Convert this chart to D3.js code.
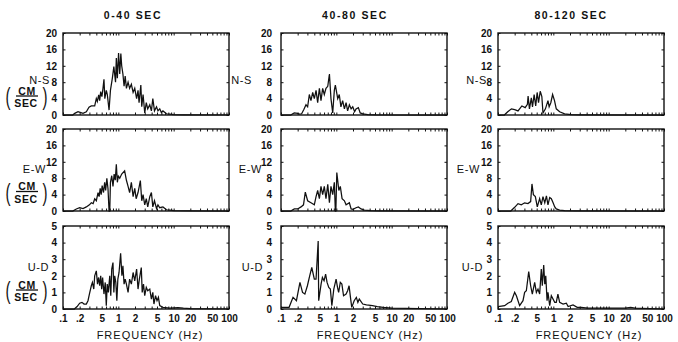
<!DOCTYPE html>
<html><head><meta charset="utf-8">
<script src="https://cdn.jsdelivr.net/npm/d3@7"></script>
<style>
body{margin:0;background:#fff}
svg{display:block}
text{font-family:"Liberation Sans",Arial,sans-serif;fill:#111}
</style>
</head><body>
<svg id="c" width="678" height="342"></svg>
<script>
// ---- data ----
const windows = ["0-40 SEC", "40-80 SEC", "80-120 SEC"];
const components = ["N-S", "E-W", "U-D"];
const unitTop = "CM";
const unitBottom = "SEC";
const xTitle = "FREQUENCY (Hz)";
const yMaxes = [20, 20, 5];
const yTicksHoriz = [0, 4, 8, 12, 16, 20];
const yTicksVert = [0, 1, 2, 3, 4, 5];
const xTickValues = [0.1, 0.2, 0.5, 1, 2, 5, 10, 20, 50, 100];
const xTickLabels = [".1", ".2", "5", "1", "2", "5", "10", "20", "50", "100"];

// spectra: [frequency Hz, amplitude cm/sec]
const ns_0_40 = [[0.1,0],[0.15,0],[0.163,0.4],[0.187,0.8],[0.21,0.6],[0.23,0.4],[0.264,0.8],[0.295,1.9],[0.325,2.2],[0.374,2.2],[0.40,4.0],[0.417,3.3],[0.442,4.9],[0.46,3.5],[0.48,5.7],[0.505,4.5],[0.528,6.5],[0.55,8.7],[0.57,4.0],[0.606,6.0],[0.632,5.0],[0.68,1.2],[0.72,6.0],[0.78,9.0],[0.83,11.8],[0.89,8.0],[0.92,13.9],[0.96,9.0],[1.01,15.1],[1.06,10.0],[1.11,15.0],[1.15,12.0],[1.21,10.0],[1.27,7.0],[1.33,9.5],[1.40,6.5],[1.50,8.0],[1.60,6.5],[1.72,7.5],[1.85,5.5],[1.98,6.5],[2.14,4.0],[2.27,6.0],[2.37,3.0],[2.55,7.3],[2.65,2.0],[2.8,5.0],[3.0,0.5],[3.2,3.0],[3.4,1.5],[3.7,2.5],[3.96,1.0],[4.2,4.0],[4.5,1.0],[4.9,2.0],[5.2,1.0],[5.6,1.5],[6.0,0.6],[6.4,1.0],[7.4,0.3],[8.5,0.2],[9.8,0.1],[15,0.05],[100,0]];
const ns_40_80 = [[0.1,0],[0.15,0],[0.163,0.3],[0.174,0.5],[0.2,0.4],[0.215,0.2],[0.236,0.3],[0.26,1.4],[0.283,2.5],[0.303,2.0],[0.325,5.0],[0.348,3.5],[0.374,5.5],[0.40,4.0],[0.43,6.0],[0.46,3.0],[0.494,6.5],[0.528,3.5],[0.566,6.5],[0.606,5.0],[0.65,6.5],[0.70,7.0],[0.75,10.0],[0.80,4.0],[0.86,0.5],[0.92,6.0],[0.96,7.3],[1.06,4.0],[1.13,5.0],[1.21,2.0],[1.30,3.5],[1.40,1.5],[1.50,3.0],[1.60,1.0],[1.72,2.5],[1.85,1.5],[1.98,2.0],[2.14,0.8],[2.27,1.5],[2.5,1.8],[2.7,0.5],[3.0,0.3],[3.7,0.1],[5,0.05],[100,0]];
const ns_80_120 = [[0.1,0],[0.13,0],[0.15,0.8],[0.175,1.5],[0.2,1.3],[0.23,1.0],[0.27,2.2],[0.31,1.8],[0.34,2.6],[0.35,4.6],[0.37,1.5],[0.40,4.2],[0.42,2.0],[0.45,5.0],[0.48,2.2],[0.51,5.5],[0.54,3.0],[0.58,5.8],[0.62,4.5],[0.65,0.5],[0.72,1.5],[0.80,3.5],[0.84,2.0],[0.90,3.0],[0.97,5.0],[1.05,3.5],[1.13,1.5],[1.30,0.8],[1.60,0.3],[2.1,0.1],[3,0.05],[100,0]];
const ew_0_40 = [[0.1,0],[0.15,0],[0.174,0.5],[0.2,0.8],[0.23,0.6],[0.264,1.0],[0.3,1.5],[0.325,2.0],[0.35,1.8],[0.374,3.0],[0.40,2.5],[0.43,4.5],[0.45,3.5],[0.47,5.5],[0.49,4.0],[0.51,6.2],[0.54,4.5],[0.566,7.0],[0.59,5.0],[0.62,8.0],[0.65,5.5],[0.68,0],[0.70,0],[0.72,7.0],[0.76,8.6],[0.80,6.0],[0.84,9.0],[0.88,7.5],[0.92,11.4],[0.96,7.0],[1.0,8.5],[1.06,8.0],[1.15,9.0],[1.30,9.8],[1.40,7.5],[1.50,6.0],[1.60,4.5],[1.72,7.0],[1.85,3.5],[1.98,5.5],[2.1,3.0],[2.27,4.5],[2.5,7.4],[2.65,2.5],[2.8,4.0],[3.0,1.5],[3.2,3.0],[3.4,1.0],[3.7,3.5],[3.96,4.5],[4.2,1.0],[4.5,2.5],[4.9,0.6],[5.2,1.5],[5.6,0.8],[6.4,1.0],[7.4,0.3],[8.5,0.2],[10,0.1],[20,0.05],[100,0]];
const ew_40_80 = [[0.1,0],[0.15,0],[0.174,0.5],[0.2,0.5],[0.23,1.0],[0.255,1.5],[0.275,4.6],[0.303,2.5],[0.348,2.0],[0.40,1.5],[0.43,3.5],[0.46,5.0],[0.494,3.0],[0.528,6.0],[0.566,4.0],[0.606,6.0],[0.65,3.0],[0.70,6.5],[0.75,2.0],[0.80,6.0],[0.86,4.0],[0.92,7.0],[0.96,0],[0.98,0],[1.02,9.4],[1.11,5.0],[1.18,6.0],[1.27,3.0],[1.40,2.5],[1.50,1.5],[1.72,2.0],[1.85,0.5],[2.0,0.4],[2.27,0.8],[2.5,1.0],[2.8,0.5],[3.2,0.2],[4.2,0.1],[6,0.05],[100,0]];
const ew_80_120 = [[0.1,0],[0.17,0],[0.2,0.9],[0.23,1.8],[0.264,1.5],[0.303,2.0],[0.348,1.8],[0.389,2.3],[0.411,6.6],[0.436,4.0],[0.473,3.5],[0.513,1.0],[0.566,3.0],[0.606,1.5],[0.65,3.5],[0.70,2.0],[0.75,3.7],[0.80,1.5],[0.86,3.3],[0.92,3.0],[0.99,2.0],[1.06,1.0],[1.13,0.5],[1.30,0.2],[1.60,0.1],[2.5,0.05],[100,0]];
const ud_0_40 = [[0.1,0],[0.16,0],[0.18,0.15],[0.2,0.35],[0.22,0.4],[0.24,0.3],[0.264,0.3],[0.283,0.5],[0.30,0.9],[0.325,1.4],[0.34,1.6],[0.36,1.2],[0.374,2.0],[0.40,2.3],[0.42,1.5],[0.44,1.9],[0.46,1.4],[0.48,2.0],[0.50,1.2],[0.52,1.9],[0.55,0.9],[0.58,1.6],[0.606,0.2],[0.63,1.5],[0.66,1.0],[0.70,2.0],[0.73,0.8],[0.76,2.4],[0.80,2.8],[0.83,1.0],[0.86,2.0],[0.9,1.6],[0.94,0.5],[0.98,1.8],[1.03,2.2],[1.10,3.35],[1.16,2.0],[1.21,2.6],[1.27,1.5],[1.33,1.8],[1.40,1.5],[1.50,1.0],[1.60,1.8],[1.72,1.5],[1.85,2.2],[1.98,1.7],[2.14,2.4],[2.27,1.2],[2.4,1.8],[2.6,2.5],[2.7,1.0],[2.85,1.5],[3.0,0.8],[3.2,1.3],[3.4,1.1],[3.7,1.2],[3.96,0.6],[4.2,1.0],[4.4,0.3],[4.7,0.8],[5.0,0.5],[5.3,0.7],[5.6,0.2],[6.4,0.1],[8.5,0.05],[12,0.08],[15,0.05],[20,0.03],[100,0]];
const ud_40_80 = [[0.1,0.1],[0.14,0.1],[0.165,0.7],[0.19,0.5],[0.22,1.6],[0.245,1.0],[0.27,0.9],[0.30,1.4],[0.33,2.0],[0.36,2.5],[0.40,1.8],[0.43,1.8],[0.47,4.1],[0.48,0.5],[0.53,1.5],[0.56,1.9],[0.60,1.7],[0.64,2.1],[0.68,1.6],[0.73,1.3],[0.78,1.2],[0.83,0.2],[0.90,1.2],[0.99,1.8],[1.05,1.3],[1.1,1.0],[1.18,1.6],[1.26,1.5],[1.35,0.8],[1.5,0.9],[1.6,1.1],[1.7,1.4],[1.8,0.7],[1.9,0.1],[2.1,0.5],[2.3,0.7],[2.45,0.4],[2.6,0.6],[3.0,0.3],[3.5,0.25],[4.5,0.2],[5.5,0.15],[7,0.1],[10,0.05],[100,0]];
const ud_80_120 = [[0.1,0.15],[0.132,0.2],[0.151,0.35],[0.174,0.45],[0.2,1.0],[0.215,0.8],[0.246,0.2],[0.283,0.5],[0.303,1.0],[0.325,1.1],[0.359,2.25],[0.389,1.4],[0.417,0.9],[0.46,1.6],[0.494,1.0],[0.528,1.2],[0.566,0.9],[0.606,2.4],[0.632,1.4],[0.67,2.65],[0.70,1.5],[0.73,2.0],[0.77,0.5],[0.80,1.0],[0.86,0.2],[0.92,0.8],[1.06,0.4],[1.13,0.4],[1.21,0.9],[1.30,0.4],[1.50,0.3],[1.72,0.35],[1.85,0.15],[2.27,0.25],[2.7,0.1],[3.2,0.1],[4.2,0.05],[20,0.05],[25,0.1],[30,0.05],[100,0]];

const spectra = [
  [ns_0_40, ns_40_80, ns_80_120],
  [ew_0_40, ew_40_80, ew_80_120],
  [ud_0_40, ud_40_80, ud_80_120]
];

// ---- layout ----
const colLeft = [63, 281, 498];
const colW = 166;
const rowTop = [33, 129, 226];
const rowBot = [115, 211, 309];
const tickPad = [6, 9, 6];
const titleX = [133, 355, 571];
const freqX = [150, 370, 589];
const compRight = [[50, 46, 49], [252, 262, 263], [487, 480, 483]];
const compY = [80, 168.5, 267];
const fracY = [96, 191.5, 290];

const svg = d3.select("#c");
const ink = "#111";

windows.forEach((w, c) => {
  svg.append("text").attr("x", titleX[c]).attr("y", 19)
    .attr("text-anchor", "middle").attr("font-size", 10.5).attr("font-weight", "bold")
    .attr("letter-spacing", 1.6).text(w);
  svg.append("text").attr("x", freqX[c]).attr("y", 339)
    .attr("text-anchor", "middle").attr("font-size", 11)
    .attr("letter-spacing", 1).text(xTitle);
});

for (let r = 0; r < 3; r++) {
  for (let c = 0; c < 3; c++) {
    const h = rowBot[r] - rowTop[r];
    const x = d3.scaleLog().domain([0.1, 100]).range([0, colW]);
    const y = d3.scaleLinear().domain([0, yMaxes[r]]).range([h, 0]);
    const g = svg.append("g").attr("transform", `translate(${colLeft[c]},${rowTop[r]})`);
    const yt = r < 2 ? yTicksHoriz : yTicksVert;

    const minor = x.ticks();
    const gb = g.append("g").attr("transform", `translate(0,${h})`)
      .call(d3.axisBottom(x).tickValues(minor).tickFormat("").tickSizeInner(-2.5).tickSizeOuter(0));
    const gt = g.append("g")
      .call(d3.axisTop(x).tickValues(minor).tickFormat("").tickSizeInner(-2.5).tickSizeOuter(0));
    const gl = g.append("g")
      .call(d3.axisLeft(y).tickValues(yt).tickFormat(d3.format("d"))
        .tickSizeInner(-2.5).tickSizeOuter(0).tickPadding(tickPad[c]));
    const gr = g.append("g").attr("transform", `translate(${colW},0)`)
      .call(d3.axisRight(y).tickValues(yt).tickFormat("").tickSizeInner(-2.5).tickSizeOuter(0));
    [gb, gt, gl, gr].forEach(a => {
      a.select(".domain").remove();
      a.selectAll("line").attr("stroke", ink).attr("stroke-width", 1);
    });
    gl.selectAll("text").attr("font-size", 10).attr("font-weight", "bold")
      .attr("font-family", "'Liberation Sans',Arial,sans-serif").attr("fill", ink);

    if (r === 2) {
      const gx = g.append("g").attr("transform", `translate(0,${h})`)
        .call(d3.axisBottom(x).tickValues(xTickValues).tickFormat((d, i) => xTickLabels[i])
          .tickSize(0).tickPadding(6));
      gx.select(".domain").remove();
      gx.selectAll("text").attr("font-size", 10).attr("font-weight", "bold")
        .attr("font-family", "'Liberation Sans',Arial,sans-serif").attr("fill", ink);
    }

    g.append("path").datum(spectra[r][c])
      .attr("fill", "none").attr("stroke", ink).attr("stroke-width", 1.25)
      .attr("stroke-linejoin", "miter")
      .attr("d", d3.line().x(d => x(d[0])).y(d => y(d[1])));

    g.append("rect").attr("x", 0).attr("y", 0).attr("width", colW).attr("height", h)
      .attr("fill", "none").attr("stroke", ink).attr("stroke-width", 1.4);

    svg.append("text").attr("x", compRight[c][r]).attr("y", compY[r] + 4)
      .attr("text-anchor", "end").attr("font-size", 11).attr("letter-spacing", 0.6)
      .text(components[r]);
  }
  // units in first column
  const fy = fracY[r];
  svg.append("text").attr("x", 27).attr("y", fy - 1.5).attr("text-anchor", "middle")
    .attr("font-size", 10.5).attr("font-weight", "bold").attr("letter-spacing", 0.6).text(unitTop);
  svg.append("line").attr("x1", 16).attr("x2", 38).attr("y1", fy).attr("y2", fy)
    .attr("stroke", ink).attr("stroke-width", 1.3);
  svg.append("text").attr("x", 26).attr("y", fy + 11).attr("text-anchor", "middle")
    .attr("font-size", 10.5).attr("font-weight", "bold").attr("letter-spacing", 0.6).text(unitBottom);
  svg.append("text").attr("transform", `translate(8,${fy + 9}) scale(1,1.6)`)
    .attr("text-anchor", "middle").attr("font-size", 15).text("(");
  svg.append("text").attr("transform", `translate(45,${fy + 9}) scale(1,1.6)`)
    .attr("text-anchor", "middle").attr("font-size", 15).text(")");
}
</script>
</body></html>
